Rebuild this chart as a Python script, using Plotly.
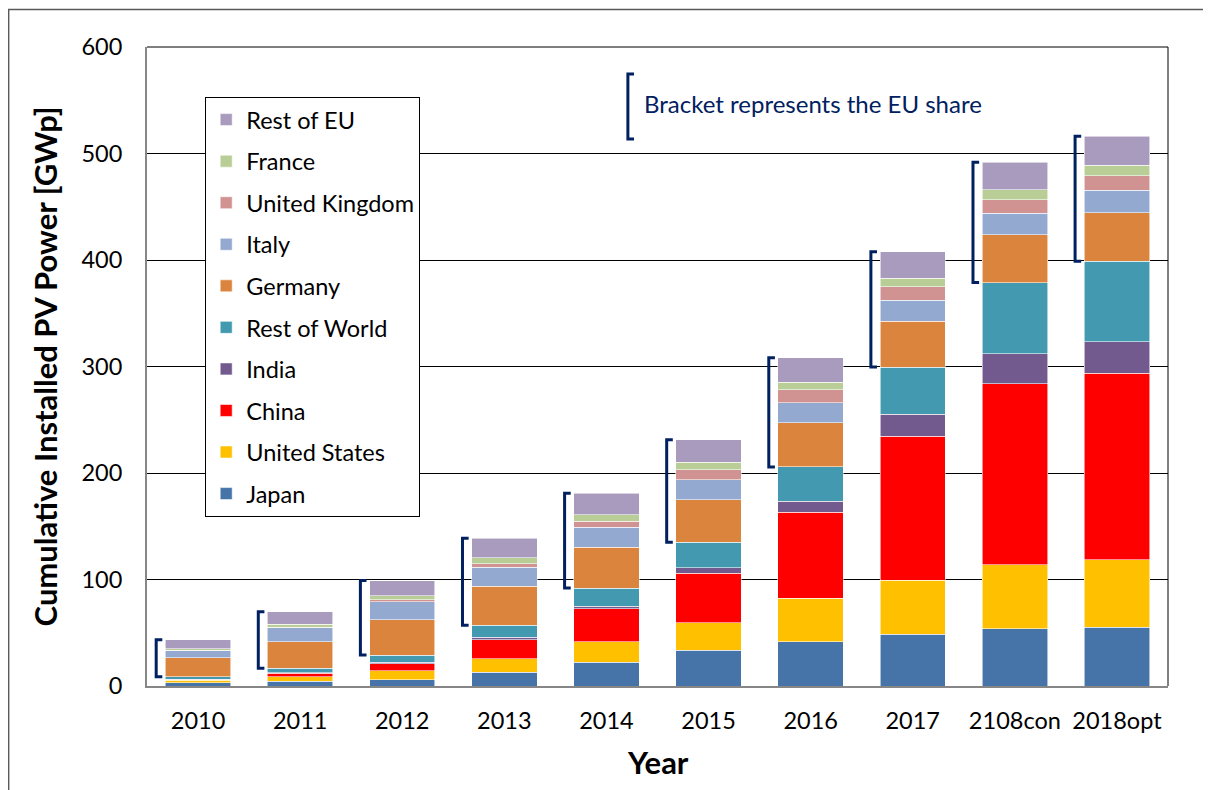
import plotly.graph_objects as go

years = ["2010", "2011", "2012", "2013", "2014", "2015", "2016", "2017", "2108con", "2018opt"]

japan = [3.1, 4.4, 5.9, 12.9, 22.5, 33.8, 41.6, 48.5, 53.8, 55.4]
united_states = [2.2, 4.3, 8.2, 12.5, 19.1, 25.4, 40.8, 50.7, 60.1, 63.2]
china = [0.8, 3.1, 7.0, 18.1, 31.0, 46.7, 80.8, 135.5, 169.7, 175.0]
india = [0.1, 0.5, 1.4, 2.3, 2.5, 5.3, 10.3, 20.4, 28.2, 29.7]
rest_of_world = [2.5, 4.3, 6.6, 11.3, 16.9, 23.8, 32.2, 44.4, 67.0, 75.5]
germany = [18.0, 25.0, 32.9, 36.6, 38.5, 39.7, 41.3, 43.2, 44.8, 45.6]
italy = [6.6, 12.9, 16.9, 17.8, 18.8, 19.1, 19.1, 19.7, 20.4, 21.3]
united_kingdom = [0.1, 0.9, 1.9, 3.4, 5.4, 9.1, 11.9, 12.5, 12.5, 13.4]
france = [1.6, 2.5, 3.8, 5.4, 6.3, 7.2, 7.2, 8.2, 9.4, 10.0]
rest_of_eu = [8.5, 11.9, 14.4, 18.5, 20.0, 21.2, 23.1, 24.7, 26.0, 27.2]

series = [
    ("Japan", japan, "#4674A8"),
    ("United States", united_states, "#FFC000"),
    ("China", china, "#FF0000"),
    ("India", india, "#735A8E"),
    ("Rest of World", rest_of_world, "#4399AF"),
    ("Germany", germany, "#DB843D"),
    ("Italy", italy, "#93A9CF"),
    ("United Kingdom", united_kingdom, "#D19392"),
    ("France", france, "#B9CD96"),
    ("Rest of EU", rest_of_eu, "#A99BBD"),
]
eu_names = {"Germany", "Italy", "United Kingdom", "France", "Rest of EU"}

FONT = "Lato"
xpos = list(range(len(years)))
BAR_W = 0.64

fig = go.Figure()
n = len(series)
for k, (name, vals, color) in enumerate(series):
    fig.add_trace(go.Bar(
        x=xpos, y=vals, name=name, legendgroup=name, legendrank=n - k, width=BAR_W,
        marker=dict(color=color, line=dict(color="rgba(255,255,255,0.7)", width=0.8)),
    ))

# EU brackets
shapes = []
for i in xpos:
    non_eu = sum(v[i] for nm, v, c in series if nm not in eu_names)
    total = sum(v[i] for nm, v, c in series)
    x0 = i - BAR_W / 2 - 0.09
    t = 0.06
    shapes.append(dict(
        type="path", xref="x", yref="y",
        path=f"M {x0 + t},{total} L {x0},{total} L {x0},{non_eu} L {x0 + t},{non_eu}",
        line=dict(color="#002060", width=3),
    ))

# plot area top/right border
shapes.append(dict(type="line", xref="paper", yref="paper", x0=0, x1=1, y0=1, y1=1,
                   line=dict(color="black", width=1)))
shapes.append(dict(type="line", xref="paper", yref="paper", x0=1, x1=1, y0=0, y1=1,
                   line=dict(color="black", width=1)))
# outer chart frame
shapes.append(dict(type="rect", xref="paper", yref="paper", x0=-0.1355, x1=1.2, y0=-0.3, y1=1.0587,
                   line=dict(color="#595959", width=1.5)))
# bracket for note
shapes.append(dict(type="path", xref="paper", yref="paper",
                   path="M 0.477,0.9577 L 0.471,0.9577 L 0.471,0.856 L 0.477,0.856",
                   line=dict(color="#002060", width=3)))

fig.update_layout(
    width=1203, height=782,
    margin=dict(l=139, r=43, t=39, b=104),
    paper_bgcolor="white", plot_bgcolor="white",
    barmode="stack", bargap=0.36,
    font=dict(family=FONT, color="black", size=23),
    shapes=shapes,
    legend=dict(
        x=0.057, y=0.922, xanchor="left", yanchor="top",
        traceorder="grouped", tracegroupgap=8,
        bordercolor="black", borderwidth=1, bgcolor="white",
        font=dict(family=FONT, size=23.5, color="black"),
        itemwidth=30,
    ),
    showlegend=True,
    annotations=[
        dict(text="Bracket represents the EU share", xref="paper", yref="paper",
             x=0.485, y=0.911, xanchor="left", yanchor="middle", showarrow=False,
             font=dict(family=FONT, size=24, color="#002060")),
        dict(text="<b>Cumulative Installed PV Power [GWp]</b>", xref="paper", yref="paper",
             x=-0.1, y=0.5, textangle=-90, xanchor="center", yanchor="middle", showarrow=False,
             font=dict(family=FONT, size=31, color="black")),
        dict(text="<b>Year</b>", xref="paper", yref="paper",
             x=0.5, y=-0.119, xanchor="center", yanchor="middle", showarrow=False,
             font=dict(family=FONT, size=31, color="black")),
    ],
)

fig.update_xaxes(
    range=[-0.5, 9.5], tickmode="array", tickvals=xpos, ticktext=years,
    showgrid=False, zeroline=False, showline=True, linecolor="#868686", linewidth=2,
    ticks="", ticklabelstandoff=13, tickfont=dict(family=FONT, size=23.5, color="black"),
)
fig.update_yaxes(
    range=[0, 600], tickvals=[0, 100, 200, 300, 400, 500, 600],
    showgrid=True, gridcolor="black", gridwidth=1, zeroline=False,
    showline=True, linecolor="#868686", linewidth=2,
    ticks="", ticklabelstandoff=18, tickfont=dict(family=FONT, size=23.5, color="black"),
)

fig.write_html("out.html")
